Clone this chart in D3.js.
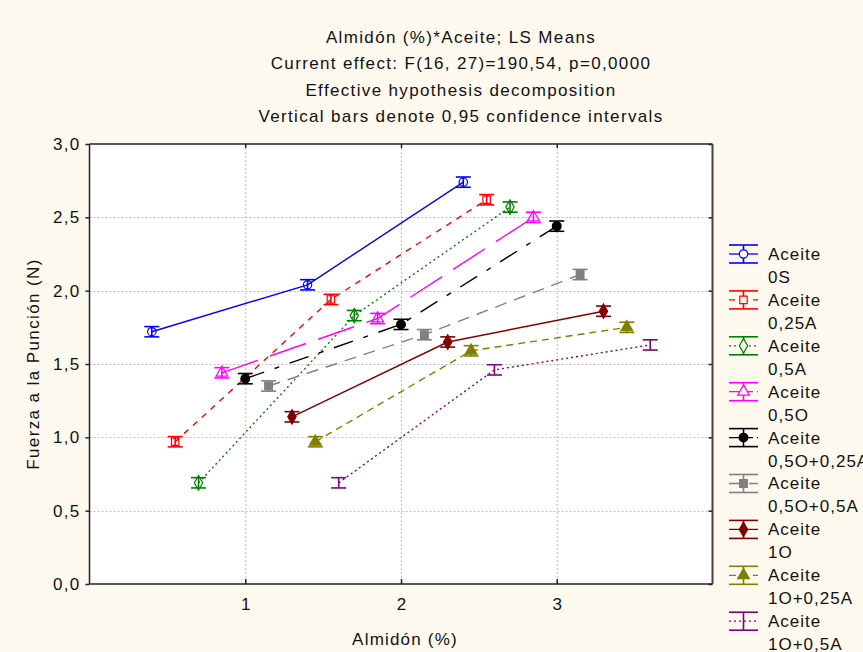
<!DOCTYPE html>
<html><head><meta charset="utf-8">
<script src="https://cdn.jsdelivr.net/npm/d3@7"></script>
<style>
html,body{margin:0;padding:0;background:#fef9ef;}
svg{display:block;font-family:"Liberation Sans",Arial,sans-serif;}
</style></head>
<body>
<svg id="chart" width="863" height="652"></svg>
<script>
// ---- data ----
const titleLines = ["Almidón (%)*Aceite; LS Means","Current effect: F(16, 27)=190,54, p=0,0000","Effective hypothesis decomposition","Vertical bars denote 0,95 confidence intervals"];
const almidon = [1, 2, 3];
const xTicks = [1, 2, 3];
const yTicks = [0, 0.5, 1, 1.5, 2, 2.5, 3];
const seriesNames = ["0S","0,25A","0,5A","0,5O","0,5O+0,25A","0,5O+0,5A","1O","1O+0,25A","1O+0,5A"];
const v0S       = [1.72, 2.04, 2.74];
const v025A     = [0.97, 1.94, 2.62];
const v05A      = [0.69, 1.83, 2.57];
const v05O      = [1.44, 1.81, 2.50];
const v05O025A  = [1.40, 1.77, 2.44];
const v05O05A   = [1.35, 1.70, 2.11];
const v1O       = [1.14, 1.65, 1.86];
const v1O025A   = [0.97, 1.59, 1.75];
const v1O05A    = [0.69, 1.46, 1.63];
const ciHalf    = [0.035, 0.035, 0.035];

const values = [v0S, v025A, v05A, v05O, v05O025A, v05O05A, v1O, v1O025A, v1O05A];
const colors = ["#0000ff","#ff0000","#008000","#ff00ff","#000000","#808080","#800000","#808000","#800080"];
const dashes = ["none","6,6","2,3","38,13","20,11,5,11","12,8","none","7,5","2,3"];
const symbols = [d3.symbolCircle, d3.symbolSquare, d3.symbolDiamond, d3.symbolTriangle, d3.symbolCircle, d3.symbolSquare, d3.symbolDiamond, d3.symbolTriangle, null];
const filled = [false,false,false,false,true,true,true,true,false];
const symSize = [55,55,60,60,60,60,60,60,0];

// ---- layout ----
const svg = d3.select("#chart");
const L = 89.5, R = 712.5, T = 144, B = 584;
const x = d3.scaleLinear().domain([0,4]).range([L,R]);
const y = d3.scaleLinear().domain([0,3]).range([B,T]);
const dodge = 0.15;
const FS = 17, LS = 1.3;

svg.append("rect").attr("x",0).attr("y",0).attr("width",863).attr("height",652).attr("fill","#fef9ef");
svg.append("rect").attr("x",L).attr("y",T).attr("width",R-L).attr("height",B-T).attr("fill","#ffffff");

// title
svg.append("g").selectAll("text").data(titleLines).join("text")
  .attr("x",461).attr("y",(d,i)=>37+i*26.3).attr("dy","0.35em")
  .attr("text-anchor","middle").attr("font-size",FS).attr("letter-spacing",1.35).attr("fill","#111").text(d=>d);

// grid
const grid = svg.append("g").attr("stroke","#bdbdbd").attr("stroke-width",1).attr("stroke-dasharray","2,2");
grid.selectAll(".gx").data(xTicks).join("line").attr("x1",d=>x(d)+0.5).attr("x2",d=>x(d)+0.5).attr("y1",T).attr("y2",B);
grid.selectAll(".gy").data(yTicks.filter(d=>d>0&&d<3)).join("line").attr("x1",L).attr("x2",R).attr("y1",d=>Math.round(y(d))+0.5).attr("y2",d=>Math.round(y(d))+0.5);

// axes
const fmt = d3.format(".1f");
const yAxisL = svg.append("g").attr("transform",`translate(${L},0)`)
  .call(d3.axisLeft(y).tickValues(yTicks).tickSize(4).tickPadding(5).tickFormat(d=>fmt(d).replace(".",",")));
yAxisL.select(".domain").remove();
yAxisL.selectAll("text").attr("font-size",FS).attr("letter-spacing",LS).attr("fill","#111").attr("font-family","Liberation Sans, Arial, sans-serif");
const yAxisR = svg.append("g").attr("transform",`translate(${R},0)`)
  .call(d3.axisLeft(y).tickValues(yTicks).tickSize(4).tickFormat(""));
yAxisR.select(".domain").remove();
const xAxisB = svg.append("g").attr("transform",`translate(0,${B})`)
  .call(d3.axisTop(x).tickValues(xTicks).tickSize(5).tickFormat(""));
xAxisB.select(".domain").remove();
const xLab = svg.append("g").attr("transform",`translate(0,${B})`)
  .call(d3.axisBottom(x).tickValues(xTicks).tickSize(0).tickPadding(14).tickFormat(d3.format("d")));
xLab.select(".domain").remove();
xLab.selectAll("text").attr("font-size",FS).attr("fill","#111").attr("font-family","Liberation Sans, Arial, sans-serif");
const xAxisT = svg.append("g").attr("transform",`translate(0,${T})`)
  .call(d3.axisBottom(x).tickValues(xTicks).tickSize(4).tickFormat(""));
xAxisT.select(".domain").remove();
svg.selectAll(".tick line").attr("stroke","#222").attr("stroke-width",1.5);

// frame
svg.append("line").attr("x1",L).attr("x2",R).attr("y1",T).attr("y2",T).attr("stroke","#222").attr("stroke-width",1.5);
svg.append("line").attr("x1",L).attr("x2",R).attr("y1",B).attr("y2",B).attr("stroke","#222").attr("stroke-width",1.5);
svg.append("line").attr("x1",L).attr("x2",L).attr("y1",T).attr("y2",B).attr("stroke","#222").attr("stroke-width",1.5);
svg.append("line").attr("x1",R).attr("x2",R).attr("y1",T).attr("y2",B).attr("stroke","#444").attr("stroke-width",2);

// axis labels
svg.append("text").attr("x",405).attr("y",639).attr("dy","0.35em").attr("text-anchor","middle").attr("font-size",FS).attr("letter-spacing",1.2).attr("fill","#111").text("Almidón (%)");
svg.append("text").attr("transform","translate(33,364) rotate(-90)").attr("dy","0.35em").attr("text-anchor","middle").attr("font-size",FS).attr("letter-spacing",1.4).attr("fill","#111").text("Fuerza a la Punción (N)");

// series
const capW = 7.5;
const plot = svg.append("g");
values.forEach((vals,i)=>{
  const off = (i-4)*dodge;
  const pts = almidon.map((a,j)=>({x:x(a+off), y:y(vals[j]), lo:y(vals[j]-ciHalf[j]), hi:y(vals[j]+ciHalf[j])}));
  const g = plot.append("g");
  g.append("path").attr("d",d3.line().x(d=>d.x).y(d=>d.y)(pts))
    .attr("fill","none").attr("stroke",colors[i]).attr("stroke-width",1.4)
    .attr("stroke-dasharray",dashes[i]);
  const eb = g.selectAll(".eb").data(pts).join("g").attr("stroke",colors[i]).attr("stroke-width",1.6);
  eb.append("line").attr("x1",d=>d.x).attr("x2",d=>d.x).attr("y1",d=>d.lo).attr("y2",d=>d.hi);
  eb.append("line").attr("x1",d=>d.x-capW).attr("x2",d=>d.x+capW).attr("y1",d=>d.lo).attr("y2",d=>d.lo);
  eb.append("line").attr("x1",d=>d.x-capW).attr("x2",d=>d.x+capW).attr("y1",d=>d.hi).attr("y2",d=>d.hi);
  if(symbols[i]){
    g.selectAll(".m").data(pts).join("path")
      .attr("transform",d=>`translate(${d.x},${d.y})`)
      .attr("d",d3.symbol().type(symbols[i]).size(symSize[i]))
      .attr("fill",filled[i]?colors[i]:"none").attr("stroke",colors[i]).attr("stroke-width",1.2);
  }
});

// legend
const lg = svg.append("g");
seriesNames.forEach((n,i)=>{
  const cy = 254 + i*45.9;
  const g = lg.append("g").attr("transform",`translate(0,${cy})`);
  const x0 = 729, x1 = 758, xc = 743.5;
  g.append("line").attr("x1",x0).attr("x2",x1).attr("y1",-9).attr("y2",-9).attr("stroke",colors[i]).attr("stroke-width",1.6);
  g.append("line").attr("x1",x0).attr("x2",x1).attr("y1",9).attr("y2",9).attr("stroke",colors[i]).attr("stroke-width",1.6);
  g.append("line").attr("x1",xc).attr("x2",xc).attr("y1",-9).attr("y2",9).attr("stroke",colors[i]).attr("stroke-width",1.6);
  g.append("line").attr("x1",x0).attr("x2",x1).attr("y1",0).attr("y2",0).attr("stroke",colors[i]).attr("stroke-width",1.3)
    .attr("stroke-dasharray",dashes[i]==="none"?"none":(i===3||i===4?"10,4":dashes[i]));
  if(symbols[i]){
    g.append("path").attr("transform",`translate(${xc},0)`)
      .attr("d",d3.symbol().type(symbols[i]).size(symSize[i]))
      .attr("fill",filled[i]?colors[i]:"#fef9ef").attr("stroke",colors[i]).attr("stroke-width",1.2);
  }
  g.append("text").attr("x",768).attr("y",0).attr("dy","0.35em").attr("font-size",FS).attr("letter-spacing",1).attr("fill","#111").text("Aceite");
  g.append("text").attr("x",768).attr("y",23).attr("dy","0.35em").attr("font-size",FS).attr("letter-spacing",1).attr("fill","#111").text(n);
});
</script>
</body></html>
